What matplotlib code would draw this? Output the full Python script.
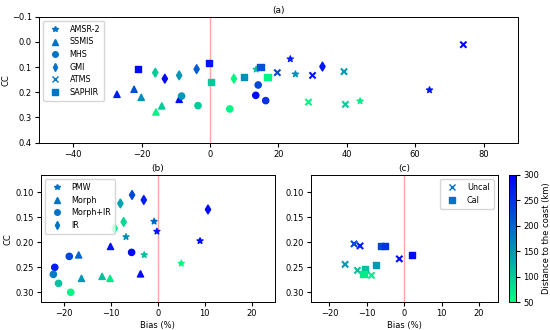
import matplotlib
matplotlib.use('Agg')
import matplotlib.pyplot as plt
from matplotlib.lines import Line2D
from matplotlib.colors import Normalize
import numpy as np

# panel (a): sensors
amsr2_bias = [13.5, 23.5, 25.0, 64.2, 43.9]
amsr2_cc = [0.109, 0.068, 0.128, 0.191, 0.235]
amsr2_dist = [110, 270, 160, 280, 70]

ssmis_bias = [-27.2, -22.2, -20.1, -15.8, -14.1, -9.0]
ssmis_cc = [0.208, 0.188, 0.220, 0.278, 0.254, 0.228]
ssmis_dist = [270, 220, 160, 60, 100, 290]

mhs_bias = [-8.3, -3.5, 5.8, 13.4, 14.1, 16.3]
mhs_cc = [0.215, 0.253, 0.266, 0.212, 0.171, 0.233]
mhs_dist = [150, 100, 60, 290, 230, 250]

gmi_bias = [-16.0, -13.2, -9.0, -3.9, 7.0, 32.9]
gmi_cc = [0.122, 0.146, 0.133, 0.108, 0.146, 0.098]
gmi_dist = [100, 290, 150, 210, 60, 280]

atms_bias = [19.7, 30.0, 39.2, 28.8, 39.6, 74.1]
atms_cc = [0.122, 0.133, 0.118, 0.239, 0.248, 0.011]
atms_dist = [230, 280, 150, 60, 100, 290]

saphir_bias = [-21.1, -0.2, 0.3, 10.0, 14.8, 16.8]
saphir_cc = [0.109, 0.083, 0.158, 0.139, 0.100, 0.139]
saphir_dist = [290, 280, 100, 160, 220, 60]

# panel (b): products
pmw_bias = [-0.8, -0.2, -6.8, -2.9, 5.0, 9.0]
pmw_cc = [0.158, 0.178, 0.189, 0.225, 0.242, 0.197]
pmw_dist = [200, 280, 160, 110, 60, 290]

morph_bias = [-16.9, -10.1, -16.3, -11.9, -10.2, -3.7]
morph_cc = [0.225, 0.208, 0.272, 0.268, 0.272, 0.263]
morph_dist = [200, 280, 150, 110, 70, 290]

morphir_bias = [-18.9, -22.0, -22.3, -21.2, -18.6, -5.6]
morphir_cc = [0.228, 0.250, 0.264, 0.282, 0.300, 0.220]
morphir_dist = [230, 270, 180, 110, 60, 290]

ir_bias = [-5.5, -3.0, -8.0, -7.3, -9.2, 10.7]
ir_cc = [0.105, 0.115, 0.122, 0.159, 0.172, 0.134]
ir_dist = [230, 270, 140, 90, 60, 290]

# panel (c): calibration
uncal_bias = [-13.4, -11.8, -15.8, -12.5, -8.75, -1.3]
uncal_cc = [0.203, 0.207, 0.244, 0.256, 0.266, 0.233]
uncal_dist = [230, 270, 150, 110, 70, 290]

cal_bias = [-6.25, -5.2, 2.1, -7.5, -10.4, -10.9]
cal_cc = [0.207, 0.207, 0.225, 0.246, 0.254, 0.264]
cal_dist = [230, 250, 290, 150, 110, 70]

cmap = plt.get_cmap('winter_r')
norm = Normalize(vmin=50, vmax=300)
leg_color = plt.get_cmap('winter')(0.45)
fs = 6

fig = plt.figure(figsize=(5.5, 3.3), dpi=100)
ax_a = fig.add_axes([0.0709, 0.5676, 0.8704, 0.3818])
ax_b = fig.add_axes([0.074, 0.0839, 0.426, 0.3858])
ax_c = fig.add_axes([0.5649, 0.0839, 0.34, 0.3858])
cax = fig.add_axes([0.9255, 0.0839, 0.0127, 0.3858])


def draw_group(ax, groups):
    handles = []
    for bias, cc, dist, marker, label in groups:
        ax.scatter(bias, cc, c=dist, cmap=cmap, norm=norm, marker=marker, s=20)
        handles.append(Line2D([], [], linestyle='', marker=marker, color=leg_color,
                              markeredgecolor=leg_color, markersize=4, label=label))
    return handles


# (a)
h = draw_group(ax_a, [
    (amsr2_bias, amsr2_cc, amsr2_dist, '*', 'AMSR-2'),
    (ssmis_bias, ssmis_cc, ssmis_dist, '^', 'SSMIS'),
    (mhs_bias, mhs_cc, mhs_dist, 'o', 'MHS'),
    (gmi_bias, gmi_cc, gmi_dist, 'd', 'GMI'),
    (atms_bias, atms_cc, atms_dist, 'x', 'ATMS'),
    (saphir_bias, saphir_cc, saphir_dist, 's', 'SAPHIR'),
])
ax_a.set_xlim(-50, 90)
ax_a.set_ylim(0.4, -0.1)
ax_a.set_yticks([-0.1, 0.0, 0.1, 0.2, 0.3, 0.4])
ax_a.set_title('(a)', fontsize=6.5, pad=3)
ax_a.set_ylabel('CC', fontsize=fs, labelpad=1)
ax_a.legend(handles=h, loc='upper left', fontsize=5.8, labelspacing=0.45,
            handletextpad=0.8, borderpad=0.5)

# (b)
h = draw_group(ax_b, [
    (pmw_bias, pmw_cc, pmw_dist, '*', 'PMW'),
    (morph_bias, morph_cc, morph_dist, '^', 'Morph'),
    (morphir_bias, morphir_cc, morphir_dist, 'o', 'Morph+IR'),
    (ir_bias, ir_cc, ir_dist, 'd', 'IR'),
])
ax_b.set_title('(b)', fontsize=6.5, pad=3)
ax_b.set_ylabel('CC', fontsize=fs, labelpad=2)
ax_b.legend(handles=h, loc='upper left', fontsize=5.8, labelspacing=0.45,
            handletextpad=0.8, borderpad=0.5)

# (c)
h = draw_group(ax_c, [
    (uncal_bias, uncal_cc, uncal_dist, 'x', 'Uncal'),
    (cal_bias, cal_cc, cal_dist, 's', 'Cal'),
])
ax_c.set_title('(c)', fontsize=6.5, pad=3)
ax_c.legend(handles=h, loc='upper right', fontsize=5.8, labelspacing=0.45,
            handletextpad=0.8, borderpad=0.5)

for ax in (ax_b, ax_c):
    ax.set_xlim(-25, 25)
    ax.set_ylim(0.32, 0.065)
    ax.set_yticks([0.10, 0.15, 0.20, 0.25, 0.30])
    ax.set_xticks([-20, -10, 0, 10, 20])
    ax.set_xlabel('Bias (%)', fontsize=fs, labelpad=2)

for ax in (ax_a, ax_b, ax_c):
    ax.axvline(0, color='red', alpha=0.35, linewidth=1, zorder=0)
    ax.tick_params(labelsize=fs, length=3, pad=2)
    for sp in ax.spines.values():
        sp.set_linewidth(0.7)

sm = plt.cm.ScalarMappable(cmap=cmap, norm=norm)
cb = fig.colorbar(sm, cax=cax)
cb.set_ticks([50, 100, 150, 200, 250, 300])
cb.ax.tick_params(labelsize=fs, length=3, pad=2)
cb.set_label('Distance to the coast (km)', fontsize=fs, labelpad=2)
cb.outline.set_linewidth(0.7)

fig.savefig('out.png', dpi=100)
